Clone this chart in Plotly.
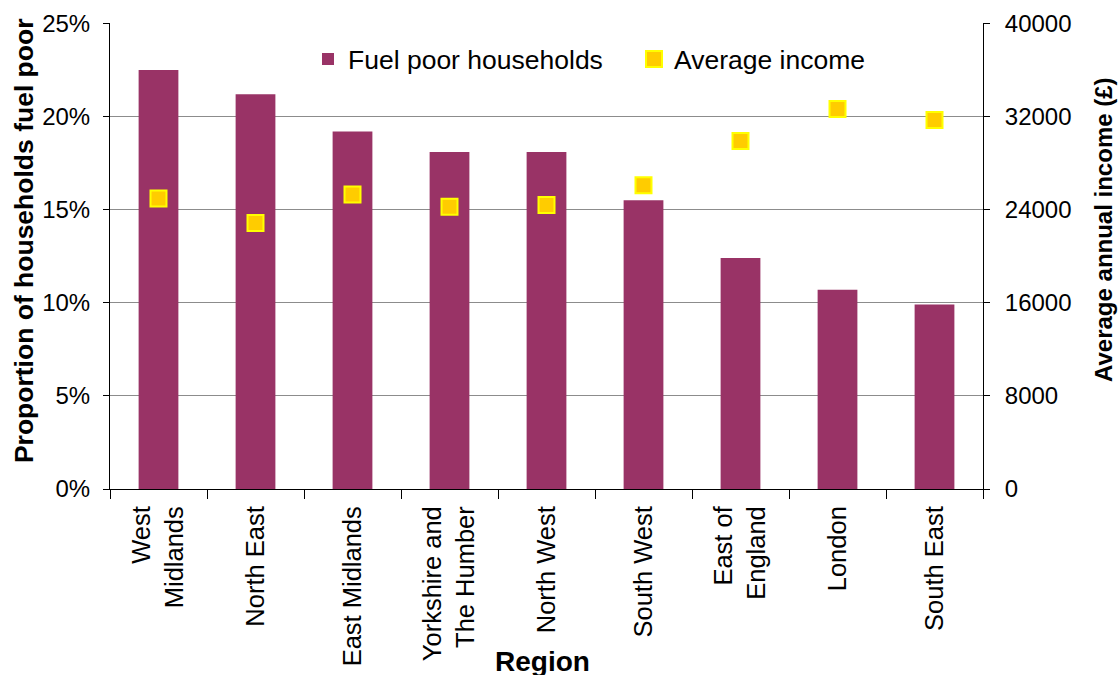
import plotly.graph_objects as go

regions = ["West<br>Midlands", "North East", "East Midlands", "Yorkshire and<br>The Humber",
           "North West", "South West", "East of<br>England", "London", "South East"]
fuel_poor = [0.225, 0.212, 0.192, 0.181, 0.181, 0.155, 0.124, 0.107, 0.099]
avg_income = [24950, 22850, 25300, 24250, 24400, 26100, 29900, 32650, 31700]

FONT = "Liberation Sans, Arial, sans-serif"

fig = go.Figure()
fig.add_trace(go.Bar(x=regions, y=fuel_poor, name="Fuel poor households",
                     marker=dict(color="#993366", line=dict(width=0)), width=0.41))
fig.add_trace(go.Scatter(x=regions, y=avg_income, name="Average income", mode="markers",
                         yaxis="y2",
                         marker=dict(symbol="square", size=16, color="#FFCC00",
                                     line=dict(color="#FFFF00", width=2))))

fig.update_layout(
    width=1120, height=675,
    margin=dict(l=110, r=137, t=23, b=186),
    paper_bgcolor="white", plot_bgcolor="white",
    font=dict(family=FONT, size=24, color="black"),
    showlegend=True,
    legend=dict(orientation="h", x=0.2268, y=0.922, xanchor="left", yanchor="middle",
                bgcolor="rgba(0,0,0,0)", font=dict(size=26.5), entrywidth=281),
    xaxis=dict(type="category", range=[-0.5, len(regions) - 0.5],
               showline=True, linecolor="black", linewidth=1,
               ticks="outside", tickson="boundaries", ticklen=9, tickcolor="black",
               tickangle=-90, tickfont=dict(size=25.5), showgrid=False, automargin=False,
               ticklabelstandoff=6),
    yaxis=dict(range=[0, 0.2502], tickvals=[0, 0.05, 0.10, 0.15, 0.20, 0.25],
               tickformat=".0%", showline=True,
               linecolor="black", linewidth=1, ticks="outside", ticklen=6,
               tickcolor="black", showgrid=True, gridcolor="#8c8c8c", gridwidth=1,
               zeroline=False, tickfont=dict(size=24), automargin=False,
               ticklabelstandoff=8),
    yaxis2=dict(range=[0, 40032], tickvals=[0, 8000, 16000, 24000, 32000, 40000],
                tickformat="d", overlaying="y", side="right",
                showline=True, linecolor="black", linewidth=1, ticks="outside",
                ticklen=6, tickcolor="black", showgrid=False, zeroline=False,
                tickfont=dict(size=24), automargin=False, ticklabelstandoff=10),
    annotations=[
        dict(text="<b>Proportion of households fuel poor</b>", textangle=-90,
             xref="paper", yref="paper", x=-0.0985, y=0.532, xanchor="center",
             yanchor="middle", showarrow=False, font=dict(size=26.5)),
        dict(text="<b>Average annual income (£)</b>", textangle=-90,
             xref="paper", yref="paper", x=1.1386, y=0.558, xanchor="center",
             yanchor="middle", showarrow=False, font=dict(size=24)),
        dict(text="<b>Region</b>", xref="paper", yref="paper", x=0.4954, y=-0.37,
             xanchor="center", yanchor="middle", showarrow=False, font=dict(size=28)),
    ],
)

fig.write_html("out.html", config={"displayModeBar": False},
               post_script="document.body.style.margin='0px';")
